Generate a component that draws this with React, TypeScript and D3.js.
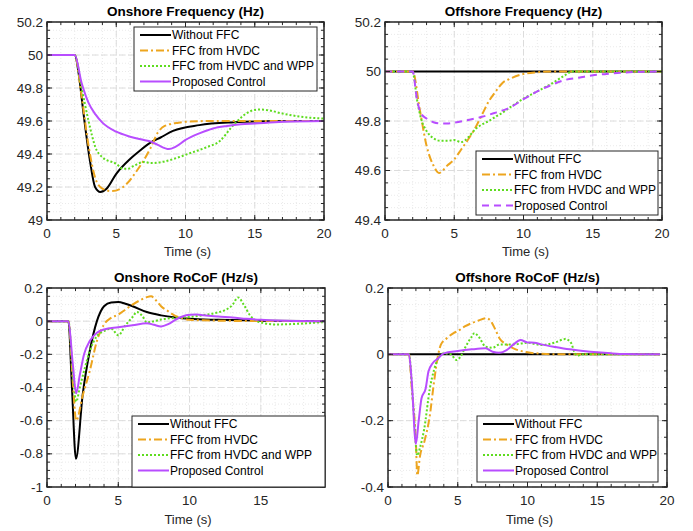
import React from 'react';
import * as d3 from 'd3';

type Pt = [number, number];

const seriesNames = ['Without FFC', 'FFC from HVDC', 'FFC from HVDC and WPP', 'Proposed Control'];
const colors = ['#000000', '#EDA51E', '#5EDC1F', '#B84DFF'];

// Onshore frequency (Hz)
const onFreqBlack: Pt[] = [[0, 50], [2, 50], [2.3, 49.88], [2.6, 49.67], [3.1, 49.36], [3.47, 49.2], [3.85, 49.17], [4.3, 49.19], [5, 49.28], [6, 49.37], [6.7, 49.42], [7.5, 49.47], [8.2, 49.5], [9.1, 49.54], [11, 49.575], [13.5, 49.592], [16, 49.598], [20, 49.6]];
const onFreqOrange: Pt[] = [[0, 50], [2, 50], [2.5, 49.75], [3, 49.45], [3.5, 49.25], [4, 49.19], [4.7, 49.175], [5.5, 49.2], [6.5, 49.3], [7.5, 49.44], [8, 49.53], [8.5, 49.57], [9.5, 49.59], [10, 49.595], [12, 49.6], [20, 49.6]];
const onFreqGreen: Pt[] = [[0, 50], [2, 50], [2.5, 49.8], [3, 49.6], [3.5, 49.44], [4, 49.38], [5, 49.34], [5.5, 49.31], [5.8, 49.31], [6.3, 49.33], [7, 49.352], [7.5, 49.345], [8.5, 49.355], [9.5, 49.38], [10.5, 49.41], [11.5, 49.44], [12.5, 49.48], [13.3, 49.56], [14, 49.62], [14.7, 49.66], [15.3, 49.67], [16, 49.665], [17, 49.645], [18, 49.63], [19, 49.62], [20, 49.615]];
const onFreqPurple: Pt[] = [[0, 50], [2, 50], [2.5, 49.83], [3, 49.71], [3.5, 49.64], [4, 49.59], [5, 49.535], [6, 49.505], [7, 49.485], [7.5, 49.475], [8, 49.455], [8.8, 49.43], [9.3, 49.445], [10, 49.485], [11, 49.525], [12, 49.555], [13, 49.57], [14, 49.58], [15, 49.585], [17, 49.595], [20, 49.6]];

// Offshore frequency (Hz)
const offFreqBlack: Pt[] = [[0, 50], [20, 50]];
const offFreqOrange: Pt[] = [[0, 50], [2, 50], [2.5, 49.85], [3, 49.7], [3.5, 49.62], [3.9, 49.59], [4.5, 49.62], [5, 49.645], [5.5, 49.685], [6, 49.725], [6.5, 49.77], [7, 49.825], [7.5, 49.88], [8, 49.92], [8.5, 49.955], [9, 49.97], [10, 49.99], [11, 49.997], [12, 50], [20, 50]];
const offFreqGreen: Pt[] = [[0, 50], [2, 50], [2.3, 49.89], [2.6, 49.81], [3, 49.76], [3.5, 49.73], [4, 49.72], [4.5, 49.72], [5, 49.723], [5.5, 49.715], [6, 49.733], [6.5, 49.766], [7, 49.786], [7.5, 49.8], [8, 49.818], [8.5, 49.834], [9, 49.854], [10, 49.89], [11, 49.92], [12, 49.95], [13, 49.985], [13.5, 50], [20, 50]];
const offFreqPurple: Pt[] = [[0, 50], [2, 50], [2.3, 49.89], [2.6, 49.83], [3, 49.81], [3.5, 49.795], [4, 49.79], [4.5, 49.79], [5, 49.793], [6, 49.804], [7, 49.817], [8, 49.834], [8.5, 49.843], [9, 49.854], [10, 49.888], [11, 49.92], [12, 49.945], [13, 49.966], [14, 49.975], [15, 49.985], [16, 49.99], [17, 49.995], [18, 49.998], [20, 50]];

// Onshore RoCoF (Hz/s)
const onRocofBlack: Pt[] = [[0, 0], [1.5, 0], [1.75, -0.4], [2.03, -0.83], [2.5, -0.445], [3, -0.18], [3.5, 0], [4, 0.09], [4.5, 0.113], [5, 0.115], [5.5, 0.105], [6, 0.09], [7, 0.055], [8, 0.035], [9, 0.022], [10, 0.014], [12, 0.008], [15, 0.003], [19.5, 0]];
const onRocofOrange: Pt[] = [[0, 0], [1.5, 0], [1.8, -0.35], [2.05, -0.6], [2.5, -0.45], [3, -0.3], [3.5, -0.12], [4, -0.02], [4.5, 0.02], [5, 0.04], [5.5, 0.07], [6, 0.1], [6.5, 0.125], [7, 0.145], [7.3, 0.15], [7.7, 0.12], [8, 0.09], [8.5, 0.06], [9, 0.032], [9.5, 0.018], [10, 0.008], [11, 0.005], [12, 0.003], [14, 0.001], [19.5, 0]];
const onRocofGreen: Pt[] = [[0, 0], [1.5, 0], [1.8, -0.3], [2.05, -0.485], [2.3, -0.4], [2.6, -0.3], [3, -0.18], [3.5, -0.09], [4, -0.06], [4.5, -0.045], [5, -0.085], [5.5, -0.025], [6, 0.025], [6.3, 0.055], [6.7, 0.03], [7, -0.008], [7.5, 0], [8, 0.01], [9, 0.02], [10, 0.025], [11, 0.037], [12, 0.053], [12.5, 0.067], [13, 0.097], [13.4, 0.143], [13.8, 0.1], [14.2, 0.04], [14.7, 0.002], [15.2, -0.012], [16, -0.02], [17, -0.018], [18, -0.014], [19, -0.008], [19.5, -0.005]];
const onRocofPurple: Pt[] = [[0, 0], [1.5, 0], [1.8, -0.25], [2.05, -0.435], [2.3, -0.325], [2.6, -0.2], [3, -0.12], [3.5, -0.07], [4, -0.05], [5, -0.037], [6, -0.025], [7, -0.012], [7.5, -0.022], [8, -0.032], [8.5, -0.018], [9, 0.008], [9.5, 0.028], [10, 0.038], [10.5, 0.04], [11, 0.036], [12, 0.028], [13, 0.022], [14, 0.014], [15, 0.008], [16, 0.004], [19.5, 0]];

// Offshore RoCoF (Hz/s)
const offRocofBlack: Pt[] = [[0, 0], [19.5, 0]];
const offRocofOrange: Pt[] = [[0, 0], [1.5, 0], [1.7, -0.1], [2, -0.264], [2.1, -0.365], [2.3, -0.305], [2.6, -0.264], [3, -0.184], [3.3, -0.083], [3.6, 0], [3.8, 0.03], [4.2, 0.048], [4.7, 0.064], [5, 0.07], [5.5, 0.084], [6, 0.094], [6.5, 0.102], [7, 0.109], [7.3, 0.104], [7.7, 0.074], [8, 0.048], [8.5, 0.03], [9, 0.018], [10, 0.006], [11, 0.002], [12, 0], [19.5, 0]];
const offRocofGreen: Pt[] = [[0, 0], [1.5, 0], [1.8, -0.15], [2.1, -0.305], [2.3, -0.28], [2.6, -0.224], [3, -0.103], [3.3, -0.047], [3.6, -0.012], [4, 0.003], [4.5, 0], [4.9, -0.017], [5.2, -0.007], [5.5, 0.018], [6, 0.053], [6.2, 0.064], [6.5, 0.053], [7, 0.023], [7.5, 0.02], [8, 0.03], [9, 0.03], [10, 0.035], [11, 0.028], [12, 0.036], [12.7, 0.046], [13.1, 0.036], [13.4, 0.003], [13.6, -0.004], [14, 0], [19.5, 0]];
const offRocofPurple: Pt[] = [[0, 0], [1.5, 0], [1.7, -0.08], [2, -0.27], [2.2, -0.2], [2.4, -0.133], [2.7, -0.103], [2.9, -0.052], [3.2, -0.027], [3.6, -0.012], [4, 0.003], [5, 0.01], [6, 0.015], [7, 0.018], [7.5, 0.008], [8, 0.005], [8.5, 0.013], [9, 0.03], [9.5, 0.043], [10, 0.036], [10.5, 0.035], [11, 0.03], [12, 0.022], [13, 0.015], [14, 0.01], [15, 0.006], [16, 0.003], [17, 0.001], [19.5, 0]];

const xTicks = [0, 5, 10, 15, 20];
const freqTicksOn = [49, 49.2, 49.4, 49.6, 49.8, 50, 50.2];
const freqTicksOff = [49.4, 49.6, 49.8, 50, 50.2];
const rocofTicksOn = [-1, -0.8, -0.6, -0.4, -0.2, 0, 0.2];
const rocofTicksOff = [-0.4, -0.2, 0, 0.2];

const font = 'Liberation Sans, Arial, Helvetica, sans-serif';
const dashes = ['', '8,3,2,3', '2,2', ''];

interface PanelProps {
  title: string;
  left: number; right: number; top: number; bottom: number;
  xMax: number;
  yDomain: [number, number];
  yTicks: number[];
  yMinorStep: number;
  series: Pt[][];
  purpleDashed?: boolean;
  legend: { x: number; y: number; w: number; h: number };
  xTickY: number; xLabelY: number;
}

const Panel = (p: PanelProps) => {
  const x = d3.scaleLinear().domain([0, p.xMax]).range([p.left, p.right]);
  const y = d3.scaleLinear().domain(p.yDomain).range([p.bottom, p.top]);
  const line = d3.line<Pt>().x(d => x(d[0])).y(d => y(d[1])).curve(d3.curveMonotoneX);

  const xMinor = d3.range(0, p.xMax + 0.001, 1);
  const nMinorY = Math.round((p.yDomain[1] - p.yDomain[0]) / p.yMinorStep);
  const yMinor = d3.range(0, nMinorY + 1).map(i => p.yDomain[0] + i * p.yMinorStep);
  const xMajor = xTicks.filter(t => t <= p.xMax);
  const dash = p.series.map((_, i) => (i === 3 && p.purpleDashed ? '7,5' : dashes[i]));
  const fmt = (v: number) => String(Math.round(v * 10) / 10);
  const clipId = `clip-${p.left}-${p.top}`;

  return (
    <g fontFamily={font}>
      <defs>
        <clipPath id={clipId}>
          <rect x={p.left} y={p.top} width={p.right - p.left} height={p.bottom - p.top} />
        </clipPath>
      </defs>
      <rect x={p.left} y={p.top} width={p.right - p.left} height={p.bottom - p.top} fill="#fff" />
      {/* minor grid */}
      {xMinor.map(t => (
        <line key={'xm' + t} x1={x(t)} x2={x(t)} y1={p.top} y2={p.bottom} stroke="#e4e4e4" strokeWidth={0.8} strokeDasharray="1,2" />
      ))}
      {yMinor.map(v => (
        <line key={'ym' + v} x1={p.left} x2={p.right} y1={y(v)} y2={y(v)} stroke="#e4e4e4" strokeWidth={0.8} strokeDasharray="1,2" />
      ))}
      {/* major grid */}
      {xMajor.map(t => (
        <line key={'xg' + t} x1={x(t)} x2={x(t)} y1={p.top} y2={p.bottom} stroke="#dcdcdc" strokeWidth={1} strokeDasharray="6,3" />
      ))}
      {p.yTicks.map(v => (
        <line key={'yg' + v} x1={p.left} x2={p.right} y1={y(v)} y2={y(v)} stroke="#dcdcdc" strokeWidth={1} strokeDasharray="6,3" />
      ))}
      {/* data */}
      <g clipPath={`url(#${clipId})`}>
        {p.series.map((s, i) => (
          <path key={i} d={line(s) || ''} fill="none" stroke={colors[i]} strokeWidth={2} strokeDasharray={dash[i] || undefined} />
        ))}
      </g>
      {/* ticks */}
      {xMinor.map(t => (
        <g key={'xt' + t} stroke="#262626" strokeWidth={1}>
          <line x1={x(t)} x2={x(t)} y1={p.bottom} y2={p.bottom - 3} />
          <line x1={x(t)} x2={x(t)} y1={p.top} y2={p.top + 3} />
        </g>
      ))}
      {xMajor.map(t => (
        <g key={'xT' + t} stroke="#262626" strokeWidth={1}>
          <line x1={x(t)} x2={x(t)} y1={p.bottom} y2={p.bottom - 5} />
          <line x1={x(t)} x2={x(t)} y1={p.top} y2={p.top + 5} />
        </g>
      ))}
      {yMinor.map(v => (
        <g key={'yt' + v} stroke="#262626" strokeWidth={1}>
          <line x1={p.left} x2={p.left + 3} y1={y(v)} y2={y(v)} />
          <line x1={p.right} x2={p.right - 3} y1={y(v)} y2={y(v)} />
        </g>
      ))}
      {p.yTicks.map(v => (
        <g key={'yT' + v} stroke="#262626" strokeWidth={1}>
          <line x1={p.left} x2={p.left + 5} y1={y(v)} y2={y(v)} />
          <line x1={p.right} x2={p.right - 5} y1={y(v)} y2={y(v)} />
        </g>
      ))}
      <rect x={p.left} y={p.top} width={p.right - p.left} height={p.bottom - p.top} fill="none" stroke="#262626" strokeWidth={1.5} />
      {/* tick labels */}
      {xMajor.map(t => (
        <text key={'xl' + t} x={x(t)} y={p.xTickY} textAnchor="middle" dominantBaseline="central" fontSize={13.5} fill="#262626">{t}</text>
      ))}
      {p.yTicks.map(v => (
        <text key={'yl' + v} x={p.left - 4} y={y(v)} textAnchor="end" dominantBaseline="central" fontSize={13.5} fill="#262626">{fmt(v)}</text>
      ))}
      <text x={(p.left + p.right) / 2 + 2} y={p.xLabelY} textAnchor="middle" dominantBaseline="central" fontSize={13} fill="#262626">Time (s)</text>
      <text x={(p.left + p.right) / 2} y={p.top - 11} textAnchor="middle" dominantBaseline="central" fontSize={13.5} fontWeight="bold" fill="#000">{p.title}</text>
      {/* legend */}
      <g>
        <rect x={p.legend.x} y={p.legend.y} width={p.legend.w} height={p.legend.h} fill="#fff" stroke="#262626" strokeWidth={1} />
        {seriesNames.map((n, i) => {
          const ry = p.legend.y + 8 + i * 15.5;
          return (
            <g key={n}>
              <line x1={p.legend.x + 6} x2={p.legend.x + 37} y1={ry} y2={ry} stroke={colors[i]} strokeWidth={2} strokeDasharray={dash[i] || undefined} />
              <text x={p.legend.x + 38} y={ry} dominantBaseline="central" fontSize={12} fill="#000">{n}</text>
            </g>
          );
        })}
      </g>
    </g>
  );
};

const App = () => {
  return (
    <svg width={693} height={531} style={{ position: 'absolute', left: 0, top: 0, background: '#fff' }}>
      <rect width={693} height={531} fill="#fff" />
      <Panel title="Onshore Frequency (Hz)" left={47} right={324} top={22} bottom={220} xMax={20}
        yDomain={[49, 50.2]} yTicks={freqTicksOn} yMinorStep={0.05}
        series={[onFreqBlack, onFreqOrange, onFreqGreen, onFreqPurple]}
        legend={{ x: 134, y: 27, w: 183, h: 64 }} xTickY={233} xLabelY={251} />
      <Panel title="Offshore Frequency (Hz)" left={385} right={662} top={22} bottom={220} xMax={20}
        yDomain={[49.4, 50.2]} yTicks={freqTicksOff} yMinorStep={0.05} purpleDashed
        series={[offFreqBlack, offFreqOrange, offFreqGreen, offFreqPurple]}
        legend={{ x: 476, y: 151, w: 182, h: 64 }} xTickY={233} xLabelY={251} />
      <Panel title="Onshore RoCoF (Hz/s)" left={47} right={325} top={288} bottom={487} xMax={19.5}
        yDomain={[-1, 0.2]} yTicks={rocofTicksOn} yMinorStep={0.05}
        series={[onRocofBlack, onRocofOrange, onRocofGreen, onRocofPurple]}
        legend={{ x: 132, y: 416, w: 193, h: 71 }} xTickY={500} xLabelY={519} />
      <Panel title="Offshore RoCoF (Hz/s)" left={388} right={667} top={288} bottom={487} xMax={20}
        yDomain={[-0.4, 0.2]} yTicks={rocofTicksOff} yMinorStep={0.05}
        series={[offRocofBlack, offRocofOrange, offRocofGreen, offRocofPurple]}
        legend={{ x: 477, y: 416, w: 181, h: 66 }} xTickY={500} xLabelY={519} />
    </svg>
  );
};

export default App;
